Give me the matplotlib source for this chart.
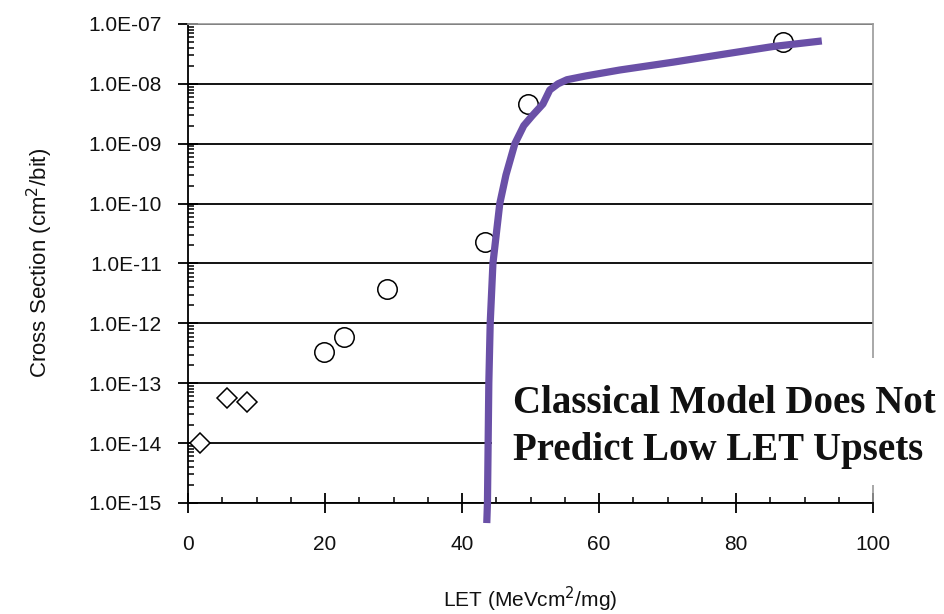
import matplotlib.pyplot as plt
from matplotlib.patches import Rectangle
from matplotlib.ticker import LogLocator, FixedLocator, MultipleLocator, NullFormatter

# Data
diamond_let = [1.8, 5.7, 8.6]
diamond_xs = [1.0e-14, 5.6e-14, 4.8e-14]

circle_let = [19.9, 22.7, 29.0, 43.3, 49.6, 86.9]
circle_xs = [3.3e-13, 6.0e-13, 3.8e-12, 2.3e-11, 4.6e-9, 5.0e-8]

# classical (Weibull-type) model curve
model_let = [43.6, 43.7, 43.9, 44.1, 44.5, 45.5, 46.4, 47.7, 49.0, 50.2, 51.8,
             52.8, 54.0, 55.3, 58.0, 63.0, 70.8, 78.0, 85.4, 92.5]
model_xs = [4.6e-16, 1.0e-15, 1.0e-13, 1.0e-12, 1.0e-11, 1.0e-10, 3.0e-10, 1.0e-9,
            2.0e-9, 2.9e-9, 4.6e-9, 7.9e-9, 1.0e-8, 1.17e-8, 1.35e-8, 1.7e-8,
            2.3e-8, 3.1e-8, 4.2e-8, 5.2e-8]

y_major = [1e-15, 1e-14, 1e-13, 1e-12, 1e-11, 1e-10, 1e-9, 1e-8, 1e-7]
x_major = [0, 20, 40, 60, 80, 100]

plt.rcParams['font.family'] = ['Liberation Sans', 'DejaVu Sans']

fig = plt.figure(figsize=(9.45, 6.14), dpi=100)
ax = fig.add_axes([0.199, 0.181, 0.725, 0.780])

ax.set_yscale('log')
ax.set_xlim(0, 100)
ax.set_ylim(1e-15, 1e-7)

ax.plot(model_let, model_xs, color='#6a50a7', lw=5.2, solid_capstyle='butt',
        clip_on=False, zorder=4)
ax.plot(diamond_let, diamond_xs, ls='none', marker='D', ms=10.5, mfc='white',
        mec='black', mew=1.1, clip_on=False, zorder=3)
ax.plot(circle_let, circle_xs, ls='none', marker='o', ms=14, mfc='white',
        mec='black', mew=1.1, clip_on=False, zorder=3)

# ticks
ax.yaxis.set_major_locator(FixedLocator(y_major))
ax.set_yticklabels([f"{v:.1E}" for v in y_major])
ax.yaxis.set_minor_locator(LogLocator(base=10, subs=range(2, 10), numticks=50))
ax.yaxis.set_minor_formatter(NullFormatter())
ax.xaxis.set_major_locator(FixedLocator(x_major))
ax.xaxis.set_minor_locator(MultipleLocator(5))
ax.tick_params(axis='both', which='major', direction='inout', length=14, width=1.3,
               labelsize=15, pad=12, labelcolor='#111111')
ax.tick_params(axis='both', which='minor', direction='in', length=4, width=1.1)
ax.tick_params(axis='x', which='major', pad=16)
ax.tick_params(top=False, right=False, which='both')

ax.grid(axis='y', which='major', color='black', lw=1.3)
ax.set_axisbelow(True)
for s in ['left', 'bottom']:
    ax.spines[s].set_color('black')
    ax.spines[s].set_linewidth(1.3)
for s in ['top', 'right']:
    ax.spines[s].set_color('#999999')
    ax.spines[s].set_linewidth(1.2)

ax.set_ylabel('Cross Section (cm$^{2}$/bit)', fontsize=16, labelpad=24, color='#111111')
ax.set_xlabel('LET (MeVcm$^{2}$/mg)', fontsize=15, labelpad=22, color='#111111')

# white box behind the annotation
ax.add_patch(Rectangle((0.443, 0.038), 0.7, 0.265, transform=ax.transAxes,
                       facecolor='white', edgecolor='none', clip_on=False, zorder=3))
ax.text(0.474, 0.158, 'Classical Model Does Not\nPredict Low LET Upsets',
        transform=ax.transAxes, family=['Liberation Serif', 'DejaVu Serif'],
        fontsize=28, weight='bold', linespacing=1.35, va='center', ha='left',
        color='#111111', zorder=5)

fig.savefig('out.png', dpi=100)
